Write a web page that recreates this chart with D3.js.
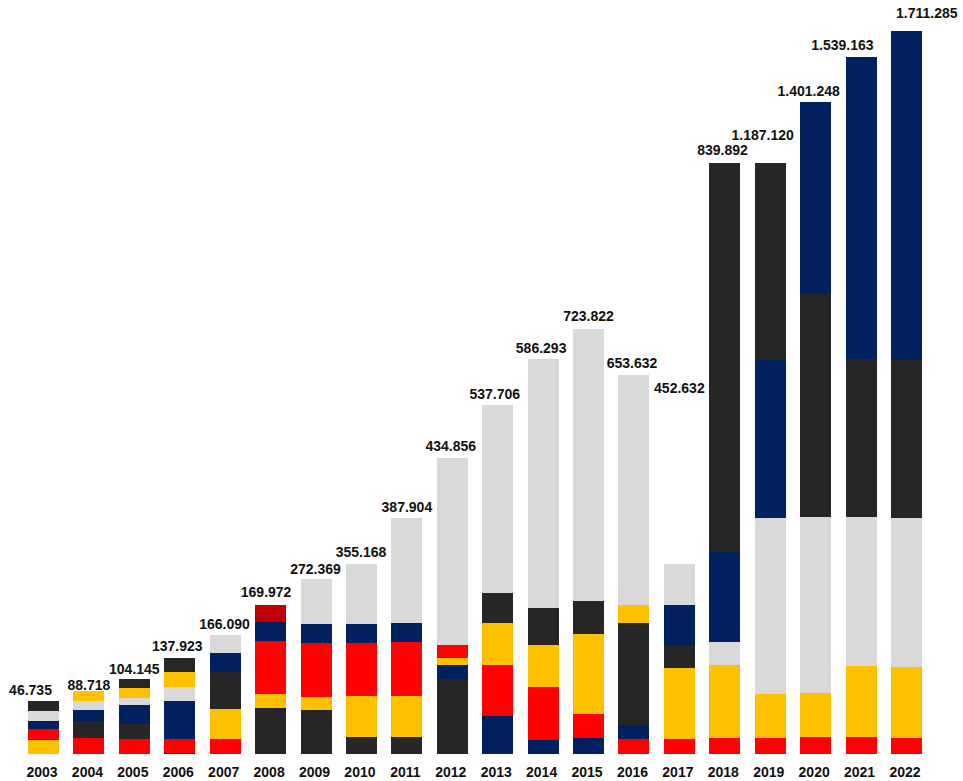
<!DOCTYPE html>
<html>
<head>
<meta charset="utf-8">
<script src="https://cdn.jsdelivr.net/npm/d3@7"></script>
<style>
  html, body { margin: 0; padding: 0; background: #ffffff; }
  svg { display: block; }
  text { font-family: "Liberation Sans", Arial, sans-serif; font-weight: bold; }
</style>
</head>
<body>
<svg id="chart" width="963" height="781"></svg>
<script>
// ---- data ----
const years = ["2003","2004","2005","2006","2007","2008","2009","2010","2011","2012",
               "2013","2014","2015","2016","2017","2018","2019","2020","2021","2022"];
const totalLabels = ["46.735","88.718","104.145","137.923","166.090","169.972","272.369","355.168","387.904","434.856",
                     "537.706","586.293","723.822","653.632","452.632","839.892","1.187.120","1.401.248","1.539.163","1.711.285"];
// stacking order (bottom -> top) of the series in each year's bar
const stackSeries = [
  ["gold","black","red","navy","gray","black"],
  ["red","black","navy","gray","gold"],
  ["red","black","navy","gray","gold","black"],
  ["black","red","navy","gray","gold","black"],
  ["red","gold","black","navy","gray"],
  ["black","gold","red","navy","darkred"],
  ["black","gold","red","navy","gray"],
  ["black","gold","red","navy","gray"],
  ["black","gold","red","navy","gray"],
  ["black","navy","gold","red","gray"],
  ["black","navy","red","gold","black","gray"],
  ["navy","red","gold","black","gray"],
  ["navy","red","gold","black","gray"],
  ["red","navy","black","gold","gray"],
  ["red","gold","black","navy","gray"],
  ["red","gold","gray","navy","black"],
  ["red","gold","gray","navy","black"],
  ["red","gold","gray","black","navy"],
  ["red","gold","gray","black","navy"],
  ["red","gold","gray","black","navy"]
];
// segment sizes (bar-height units), same order as stackSeries
const stackValues = [
  [13.5, 1, 10, 8, 10, 10],
  [15.8, 16.7, 11, 9, 10],
  [14.5, 15.3, 18.7, 7, 10, 9],
  [1, 13.5, 38, 14, 15, 14],
  [14.5, 30, 37, 19, 18],
  [45.5, 14, 53, 19, 17],
  [43.5, 13, 54, 19, 45],
  [16.5, 41, 53, 19, 60],
  [16.5, 41, 54, 19, 105],
  [74.5, 14, 7, 13, 187],
  [1, 36.5, 51, 42, 30, 188],
  [13.5, 53, 42, 37, 249],
  [15.5, 24, 80, 33, 272],
  [14.5, 14, 102, 18, 230],
  [14.5, 71, 23, 40, 41],
  [15.5, 73, 23, 90, 389],
  [15.5, 44, 176, 158, 197],
  [16.5, 44, 176, 223, 192],
  [16.5, 71, 149, 158, 302],
  [15.5, 71, 149, 158, 329]
];

// ---- styling / layout ----
const seriesColor = {
  red: "#FF0000", gold: "#FFC000", gray: "#D9D9D9",
  navy: "#002060", black: "#262626", darkred: "#C00000"
};
const labelDx   = [-13, 0, 0, -2.5, -0.7, -4.5, -0.5, -0.5, 0, -1.5, -3, -2, 0, -2, 0, -2.3, -7.5, -7, -18.7, 20.3];
const labelRise = [6, 1, 5, 7, 6, 8, 5, 6.7, 5.7, 7.3, 6, 5.7, 8, 7.3, 171.3, 8, 23, 6.3, 7, 12.7];

const W = 963, H = 781;
const svg = d3.select("#chart");
svg.append("rect").attr("width", W).attr("height", H).attr("fill", "#ffffff");

const x = d3.scaleBand()
  .domain(years)
  .range([20.8, 929.2])
  .paddingInner(0.3175)
  .paddingOuter(0.15875);

const y = d3.scaleLinear().domain([0, 730]).range([753.5, 23.5]);

// build segments
const segments = [];
const totals = [];
years.forEach((yr, i) => {
  let acc = 0;
  stackSeries[i].forEach((s, j) => {
    const v = stackValues[i][j];
    segments.push({ year: yr, series: s, y0: acc, y1: acc + v });
    acc += v;
  });
  totals.push(acc);
});

svg.append("g")
  .selectAll("rect")
  .data(segments)
  .join("rect")
  .attr("x", d => x(d.year))
  .attr("width", x.bandwidth())
  .attr("y", d => y(d.y1))
  .attr("height", d => y(d.y0) - y(d.y1))
  .attr("fill", d => seriesColor[d.series])
  .attr("shape-rendering", "crispEdges");

// total labels
svg.append("g")
  .selectAll("text")
  .data(years)
  .join("text")
  .attr("x", (d, i) => x(d) + x.bandwidth() / 2 + labelDx[i])
  .attr("y", (d, i) => y(totals[i]) - labelRise[i])
  .attr("text-anchor", "middle")
  .attr("font-size", 14)
  .attr("fill", "#111111")
  .text((d, i) => totalLabels[i]);

// year axis labels
const xAxis = d3.axisBottom(x).tickSize(0).tickPadding(0);
const gx = svg.append("g").attr("transform", "translate(-1.5,765)").call(xAxis);
gx.select(".domain").remove();
gx.selectAll("text")
  .attr("dy", null)
  .attr("y", 11.5)
  .attr("font-size", 14)
  .attr("font-family", "Liberation Sans, Arial, sans-serif")
  .attr("font-weight", "bold")
  .attr("fill", "#111111");
</script>
</body>
</html>
